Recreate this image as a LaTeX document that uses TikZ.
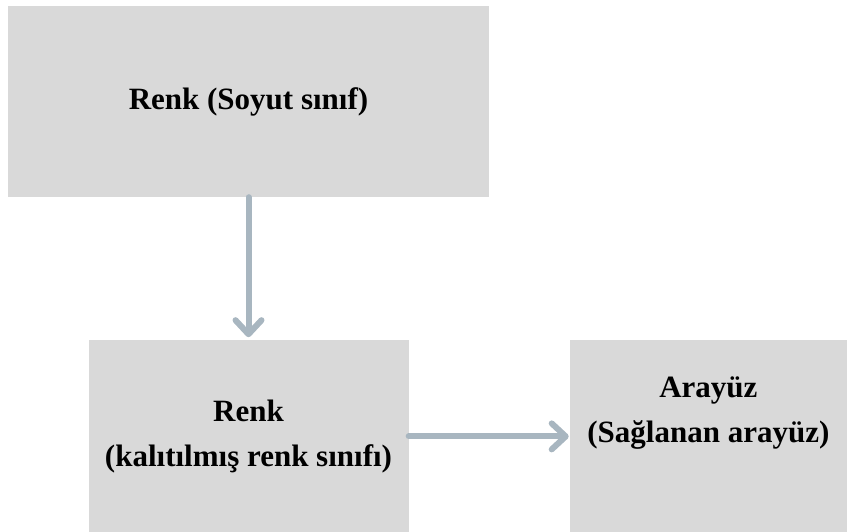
\documentclass[tikz,border=0pt]{standalone}
\usepackage{fontspec}
\setmainfont{Liberation Serif}
\definecolor{boxgray}{HTML}{D9D9D9}
\definecolor{arrowgray}{HTML}{A8B6C0}
\usetikzlibrary{arrows.meta,positioning}

\begin{document}
\begin{tikzpicture}[x=1pt,y=1pt,
  classbox/.style={fill=boxgray,inner sep=0pt,minimum height=192pt},
  inherit/.style={line width=6pt,arrowgray,line cap=round,-{Straight Barb[round,length=14pt,width=26pt]}},
  every node/.style={font=\bfseries\fontsize{31}{45}\selectfont,align=center}]
  \useasboundingbox (0,0) rectangle (847,532);
  % abstract class
  \node[classbox,minimum width=481pt,minimum height=191pt] (abstract) at (248.5,430.5) {Renk (Soyut sınıf)};
  % inherited class and interface
  \node[classbox,minimum width=320pt,below=143pt of abstract] (derived) {Renk\\(kalıtılmış renk sınıfı)};
  \node[classbox,minimum width=277pt,right=161pt of derived] (iface) {};
  \node (ifacetext) at ([yshift=23pt]iface.center) {Arayüz\\(Sağlanan arayüz)};
  % connectors
  \draw[inherit,shorten >=3pt] (abstract) -- (derived);
  \draw[inherit,shorten >=1pt] (derived) -- (iface);
\end{tikzpicture}
\end{document}
